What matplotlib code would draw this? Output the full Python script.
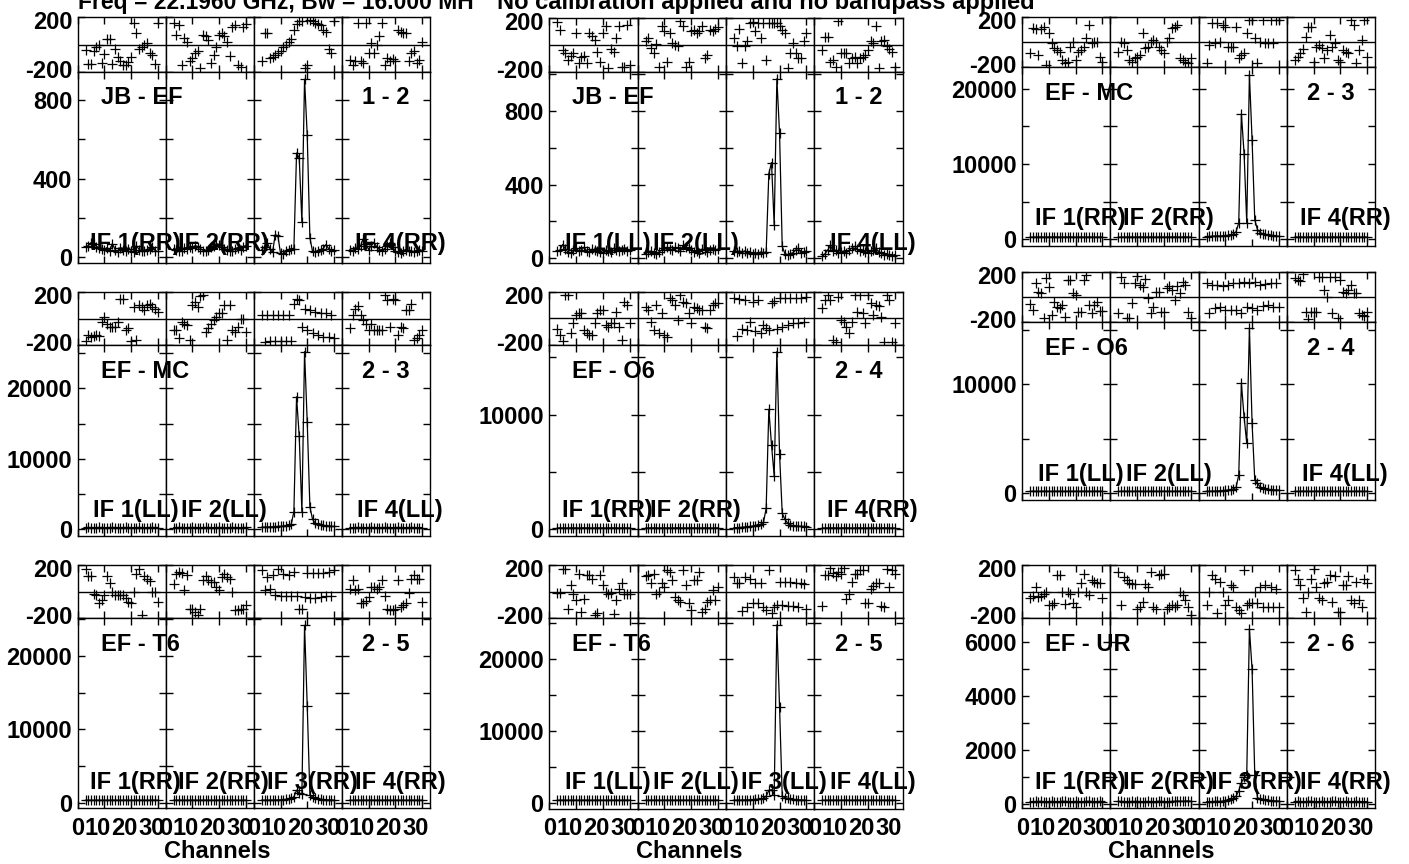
import matplotlib
matplotlib.use("Agg")
import matplotlib.pyplot as plt
from matplotlib.transforms import ScaledTranslation

plt.rcParams["font.family"] = ["Liberation Sans", "DejaVu Sans"]
plt.rcParams["font.weight"] = "bold"
plt.rcParams["axes.unicode_minus"] = False

W, H = 1409, 864

# channels plotted in every IF
channels = list(range(3, 31))

# ---------------- data (phase in degrees, amplitude) ----------------
# one list per IF (IF 1, 2, 3, 4)
ph_jb_ef_rr = [
    [-40, -145, -140, -45, -20, -5, -135, -70, 40, 40, -140, -35, -90, -125, -150, -150, -130, -95, 160, 85, -35, -15, -5, 10, -65, -80, -140, 155],
    [157, 71, 145, -150, 46, 15, -125, -100, -64, -51, -174, 71, 59, 34, -137, -76, -15, 71, 83, 59, 22, -88, 132, 145, -150, -162, 132, 150],
    [-120, 85, 88, -100, -90, -78, -65, -50, -15, 0, 20, 40, 110, 150, 170, 175, -175, -150, 178, 170, 160, 150, 140, 110, 90, -30, -60, 170],
    [-113, -150, -125, 157, -125, -137, 157, -64, 10, -64, -2, 59, 157, -150, -100, -125, -108, -125, 108, 95, 83, 83, -125, -64, -51, -137, -113, 22],
]
amp_jb_ef_rr = [
    [55, 60, 75, 70, 55, 50, 45, 40, 50, 35, 70, 40, 25, 50, 40, 30, 45, 35, 25, 60, 40, 30, 35, 40, 45, 55, 35, 30],
    [45, 40, 35, 35, 50, 45, 55, 50, 60, 55, 45, 35, 30, 40, 55, 60, 70, 65, 55, 45, 40, 35, 35, 45, 50, 40, 55, 60],
    [40, 55, 75, 45, 25, 115, 110, 20, 15, 30, 40, 45, 45, 530, 505, 180, 905, 620, 100, 30, 25, 35, 40, 45, 65, 45, 35, 40],
    [40, 35, 50, 45, 60, 95, 70, 40, 60, 75, 55, 40, 35, 45, 60, 75, 55, 30, 25, 20, 35, 40, 30, 35, 25, 30, 40, 35],
]

ph_jb_ef_ll = [
    [168, 110, -38, -62, -112, -80, -62, 88, -138, -88, -80, -132, 88, 68, 38, -50, -125, 88, 140, -175, -32, -50, 50, 140, -162, -162, 148, -150],
    [25, 50, -25, -60, 10, -162, 138, 100, -125, 88, 12, 0, -12, 175, 138, -162, -125, 100, 112, 88, 100, 138, -100, -75, 112, 100, 120, 130],
    [50, -8, 118, -138, -12, 32, 162, 168, 100, 162, 50, 162, -112, 162, 162, 162, 162, 140, 112, 88, -175, -62, 12, -62, -100, -100, 25, 88],
    [-38, 62, 62, -125, -112, -162, 175, -62, -62, -62, -138, -100, -88, -138, -100, -88, -75, -38, 25, 12, 140, -175, 25, 38, -12, -32, -50, -162],
]
amp_jb_ef_ll = [
    [40, 45, 75, 50, 35, 30, 45, 55, 40, 45, 60, 40, 35, 50, 45, 40, 35, 30, 45, 40, 35, 55, 45, 40, 45, 50, 40, 45],
    [25, 35, 40, 30, 25, 35, 45, 55, 60, 50, 45, 60, 55, 40, 70, 60, 55, 45, 35, 40, 30, 50, 45, 35, 45, 50, 45, 50],
    [40, 35, 40, 30, 40, 30, 35, 25, 30, 25, 35, 30, 35, 460, 520, 180, 975, 680, 65, 25, 20, 25, 30, 45, 55, 30, 35, 40],
    [10, 25, 45, 70, 40, 45, 30, 35, 40, 30, 45, 55, 65, 50, 40, 45, 35, 30, 40, 45, 55, 35, 30, 20, 25, 20, 15, 20],
]

ph_ef_mc_rr = [
    [-90, 108, 100, -103, 100, 118, -178, 68, -10, -50, -63, -76, -142, -163, -155, -37, 3, -142, -76, -63, -37, 29, 134, -10, 3, 3, -116, -155],
    [-76, 3, -10, -63, -142, -155, -129, -116, -103, 68, -50, -37, 3, 16, 3, -37, -63, -90, 3, 29, 108, 120, 134, -129, -142, -155, -168, -129],
    [-168, -24, 152, -10, 147, 3, 134, 121, -37, -37, -37, 121, -129, -103, -90, 68, 173, 173, 29, -168, 3, 173, -5, -5, 173, -5, 173, 173],
    [-142, -116, -90, -58, 42, 116, 121, -155, -37, -24, -50, -129, -63, 55, -37, -10, -142, -155, -63, -76, -90, 173, 134, -168, -63, 16, 173, -116],
]
amp_ef_mc_rr = [
    [300, 290, 310, 300, 320, 300, 290, 310, 300, 320, 310, 300, 290, 300, 310, 320, 300, 290, 300, 310, 300, 290, 300, 310, 300, 290, 300, 310],
    [280, 300, 290, 300, 310, 300, 290, 300, 310, 300, 290, 300, 310, 300, 290, 300, 310, 300, 290, 300, 310, 320, 300, 290, 300, 310, 300, 290],
    [350, 380, 400, 420, 450, 430, 470, 500, 520, 550, 700, 1000, 2200, 16700, 11400, 2200, 21900, 13200, 2600, 1300, 900, 750, 650, 600, 550, 500, 450, 400],
    [290, 300, 310, 300, 290, 300, 310, 300, 290, 300, 310, 300, 300, 290, 310, 300, 290, 300, 310, 300, 290, 300, 310, 300, 290, 300, 310, 300],
]

ph_ef_mc_ll = [
    [-168, -125, -138, -132, -125, -132, -25, 12, -38, -62, -62, -62, -25, 150, 150, -88, -75, -168, 88, -162, 100, 88, 62, 100, 112, 88, 75, 50],
    [-88, -88, -150, -25, -38, -50, -162, 100, 125, 88, 168, 175, -100, -75, -38, -12, 12, 38, 38, 100, -162, 100, -88, -100, -62, 0, 0, -100],
    [25, -175, 25, -172, 25, -172, 25, -170, 25, -170, 25, -168, 112, 150, 140, -62, 75, -88, 62, -110, 50, -125, 45, -138, 38, -142, 30, -150],
    [-75, 25, 75, 92, 25, -12, -38, -88, -38, -88, -88, -88, -88, 175, 138, -62, 150, 138, -125, -62, -75, 62, 62, 112, -162, -150, -125, -88],
]
amp_ef_mc_ll = [
    [250, 260, 250, 240, 250, 260, 250, 250, 240, 250, 260, 250, 250, 240, 250, 260, 250, 250, 240, 250, 260, 250, 250, 240, 250, 260, 250, 250],
    [240, 250, 260, 250, 250, 240, 250, 260, 250, 250, 240, 250, 260, 250, 250, 240, 250, 260, 250, 250, 240, 250, 260, 250, 250, 240, 250, 260],
    [300, 300, 320, 350, 350, 380, 400, 420, 450, 500, 600, 700, 2500, 18800, 13200, 2500, 25200, 15200, 3200, 1400, 900, 700, 600, 550, 500, 450, 450, 400],
    [250, 240, 250, 260, 250, 250, 240, 250, 260, 250, 250, 240, 250, 260, 250, 250, 240, 250, 260, 250, 250, 240, 250, 260, 250, 250, 240, 250],
]

ph_ef_o6_rr = [
    [-82, -125, -168, 178, 178, -112, -38, 25, 38, 38, -88, -112, -125, -125, -38, 38, 62, 62, -50, -62, -32, -38, 50, -62, -162, 125, 100, -32],
    [88, 62, -25, -88, 100, -112, 38, -125, -138, 150, 138, 100, -12, 175, 125, 112, 38, -38, 88, 75, 62, 62, -62, -75, 62, 100, 112, 115],
    [150, -132, 145, -82, 140, -88, -25, 125, -92, 138, -107, -50, -75, -88, 118, 132, -82, 150, -62, 150, -50, 150, -38, 150, -38, 150, -25, 158],
    [75, 138, 175, 138, -162, -175, 162, -12, -25, -62, -112, -25, 175, 50, 175, 38, -38, 178, 112, 25, 100, 92, 12, -175, 175, 138, -175, -38],
]
amp_ef_o6_rr = [
    [120, 130, 120, 110, 120, 130, 120, 120, 110, 120, 130, 120, 120, 110, 120, 130, 120, 120, 110, 120, 130, 120, 120, 110, 120, 130, 120, 120],
    [110, 120, 130, 120, 120, 110, 120, 130, 120, 120, 110, 120, 130, 120, 120, 110, 120, 130, 120, 120, 110, 120, 130, 120, 120, 110, 120, 130],
    [150, 150, 160, 180, 200, 220, 250, 280, 300, 350, 450, 600, 1830, 10460, 7360, 4650, 15500, 6580, 1400, 870, 550, 400, 330, 300, 280, 260, 250, 240],
    [120, 110, 120, 130, 120, 120, 110, 120, 130, 120, 120, 110, 120, 130, 120, 120, 110, 120, 130, 120, 120, 110, 120, 130, 120, 120, 110, 120],
]

ph_ef_o6_ll = [
    [-55, -103, 108, 42, 29, -168, 147, 81, -142, -37, -76, -90, -63, -155, 134, 134, 29, 16, -116, -116, 134, 173, -63, -129, -63, -37, -108, -108],
    [-129, 160, 113, -168, -168, -45, 113, 165, 95, 81, 139, -10, -129, -76, 42, 42, -116, -116, 68, 87, 55, -24, 87, 29, 121, 95, -116, -168],
    [108, -129, 95, -90, 95, -82, 87, -103, 95, -103, 108, -103, 110, -129, 121, -76, 113, -90, 121, -103, 95, -71, 100, -63, 108, -76, 113, -76],
    [147, 134, 129, 178, -116, -170, -116, -116, -116, 155, 155, 55, 3, 160, -129, 160, -168, 134, 42, 29, 55, 95, 29, 29, -129, -142, -150, -116],
]
amp_ef_o6_ll = [
    [130, 140, 130, 120, 130, 140, 130, 130, 120, 130, 140, 130, 130, 120, 130, 140, 130, 130, 120, 130, 140, 130, 130, 120, 130, 140, 130, 130],
    [120, 130, 140, 130, 130, 120, 130, 140, 130, 130, 120, 130, 140, 130, 130, 120, 130, 140, 130, 130, 120, 130, 140, 130, 130, 120, 130, 140],
    [130, 140, 150, 150, 170, 180, 200, 220, 250, 280, 350, 500, 1630, 10100, 7000, 4560, 15200, 6400, 1170, 860, 550, 400, 330, 300, 280, 260, 250, 240],
    [130, 120, 130, 140, 130, 130, 120, 130, 140, 130, 130, 120, 130, 140, 130, 130, 120, 130, 140, 130, 130, 120, 130, 140, 130, 130, 120, 130],
]

ph_ef_t6_rr = [
    [171, 114, 114, -15, -27, -89, -65, -27, 114, 60, -2, -27, -27, -27, -27, -52, -77, -84, -2, 134, 171, -176, 114, 97, 79, -2, -2, -77],
    [55, 134, 146, 139, 10, 122, -127, -127, -151, -176, -127, 84, 114, 84, 72, 72, 35, 10, 109, 134, 109, 97, -2, -139, -139, -134, -127, -102],
    [164, 10, 109, 15, 122, -27, 171, -35, 129, -35, 122, -35, 146, -35, -127, -127, -40, 139, -45, 139, -45, 139, -40, 139, -35, 146, -30, 164],
    [22, 84, 10, 22, -84, -84, -70, -40, 30, 30, 22, 30, 84, -35, -127, -139, -139, -134, 84, -114, -102, -89, -10, 97, 122, 97, 97, -77],
]
amp_ef_t6_rr = [
    [340, 350, 340, 330, 340, 350, 340, 340, 330, 340, 350, 340, 340, 330, 340, 350, 340, 340, 330, 340, 350, 340, 340, 330, 340, 350, 340, 340],
    [330, 340, 350, 340, 340, 330, 340, 350, 340, 340, 330, 340, 350, 340, 340, 330, 340, 350, 340, 340, 330, 340, 350, 340, 340, 330, 340, 350],
    [350, 350, 350, 360, 360, 370, 380, 400, 420, 450, 500, 600, 800, 1700, 1300, 1200, 24200, 13200, 1050, 800, 600, 500, 450, 420, 400, 380, 380, 350],
    [340, 330, 340, 350, 340, 340, 330, 340, 350, 340, 340, 330, 340, 350, 340, 340, 330, 340, 350, 340, 340, 330, 340, 350, 340, 340, 330, 340],
]

ph_ef_t6_ll = [
    [-10, -10, 171, 171, -134, 47, -15, -65, 134, -151, -59, 122, 122, 97, -176, -164, 122, 47, -2, -15, -10, -169, -65, 22, 60, -15, -20, -15],
    [114, 122, 60, 129, -15, -2, 60, 35, 159, 146, 84, -40, -65, -77, 159, 47, -84, -139, 89, 84, 146, -151, -127, -77, -65, 10, -65, 35],
    [109, 60, 60, -144, 109, -114, 97, -84, 60, -89, 60, -114, -139, 159, -164, -114, -102, 72, -102, 72, -109, 72, -109, 65, -114, 60, 55, -134],
    [-109, 122, 122, 178, 139, 114, 146, 129, 178, -59, -20, 72, 134, 134, 159, 159, -89, -84, 22, 40, 65, 65, -109, -114, 171, 35, 159, 129],
]
amp_ef_t6_ll = [
    [340, 350, 340, 330, 340, 350, 340, 340, 330, 340, 350, 340, 340, 330, 340, 350, 340, 340, 330, 340, 350, 340, 340, 330, 340, 350, 340, 340],
    [330, 340, 350, 340, 340, 330, 340, 350, 340, 340, 330, 340, 350, 340, 340, 330, 340, 350, 340, 340, 330, 340, 350, 340, 340, 330, 340, 350],
    [350, 350, 360, 360, 370, 380, 400, 420, 450, 480, 520, 600, 900, 1700, 1800, 1100, 24700, 13300, 900, 700, 600, 500, 450, 420, 400, 380, 360, 350],
    [340, 330, 340, 350, 340, 340, 330, 340, 350, 340, 340, 330, 340, 350, 340, 340, 330, 340, 350, 340, 340, 330, 340, 350, 340, 340, 330, 340],
]

ph_ef_ur_rr = [
    [-52, -35, 35, -40, -35, -15, -2, -102, -102, -89, 122, 122, -2, -94, -2, -15, -89, -114, -2, 60, 134, -2, -27, 84, 72, 60, 60, -45],
    [146, -102, 109, 84, 60, 55, 55, -134, -114, -77, 55, 35, 146, -114, -134, 122, 129, 134, -134, -114, -102, -114, -102, -2, -27, -65, -114, -176],
    [-102, -2, 122, 97, -164, 72, -2, -102, -65, 47, 35, -114, -139, -164, 159, -102, -89, -89, -2, -89, 35, -114, 47, -114, 35, -114, 22, -114],
    [159, 97, 47, -52, -151, -2, 97, 171, 35, -52, -65, 60, 72, 122, -77, 114, -151, -151, 47, 47, 114, -65, -89, 72, -65, -114, 97, 60],
]
amp_ef_ur_rr = [
    [100, 95, 105, 100, 110, 100, 95, 100, 105, 100, 95, 100, 110, 105, 100, 95, 100, 105, 100, 95, 100, 105, 110, 100, 95, 100, 105, 100],
    [110, 105, 100, 95, 100, 105, 100, 110, 100, 95, 100, 105, 100, 95, 100, 110, 105, 100, 95, 100, 105, 110, 120, 115, 110, 120, 125, 115],
    [90, 100, 95, 105, 110, 100, 120, 130, 150, 180, 220, 300, 500, 800, 1000, 1100, 6500, 5000, 1100, 250, 200, 180, 160, 150, 140, 130, 125, 120],
    [100, 105, 100, 95, 100, 105, 110, 100, 95, 100, 105, 100, 95, 100, 105, 110, 100, 95, 100, 105, 100, 95, 100, 105, 100, 95, 100, 100],
]

# ---------------- layout (pixels) ----------------
# box = left, right, phase top, phase/amp border, amp bottom
panels = [
    dict(bl="JB - EF", pair="1 - 2", pol="RR", ph=ph_jb_ef_rr, amp=amp_jb_ef_rr,
         box=(77.7, 430, 17.3, 71.7, 263.3), ylim=(-30, 943), step=200, lab=[0, 400, 800], ifoff=20, row=0),
    dict(bl="JB - EF", pair="1 - 2", pol="LL", ph=ph_jb_ef_ll, amp=amp_jb_ef_ll,
         box=(549.3, 902.7, 18.0, 71.7, 263.3), ylim=(-27, 1013), step=200, lab=[0, 400, 800], ifoff=20, row=0),
    dict(bl="EF - MC", pair="2 - 3", pol="RR", ph=ph_ef_mc_rr, amp=amp_ef_mc_rr,
         box=(1022.3, 1375, 16.7, 67.3, 245.7), ylim=(-850, 22870), step=5000, lab=[0, 10000, 20000], ifoff=27, row=0),
    dict(bl="EF - MC", pair="2 - 3", pol="LL", ph=ph_ef_mc_ll, amp=amp_ef_mc_ll,
         box=(77.7, 430, 292.0, 345.0, 536.0), ylim=(-950, 26140), step=5000, lab=[0, 10000, 20000], ifoff=26, row=1),
    dict(bl="EF - O6", pair="2 - 4", pol="RR", ph=ph_ef_o6_rr, amp=amp_ef_o6_rr,
         box=(549.3, 902.7, 291.7, 345.0, 536.0), ylim=(-580, 16070), step=5000, lab=[0, 10000], ifoff=26, row=1),
    dict(bl="EF - O6", pair="2 - 4", pol="LL", ph=ph_ef_o6_ll, amp=amp_ef_o6_ll,
         box=(1022.3, 1375, 271.7, 322.3, 500.0), ylim=(-670, 15730), step=5000, lab=[0, 10000], ifoff=26, row=1),
    dict(bl="EF - T6", pair="2 - 5", pol="RR", ph=ph_ef_t6_rr, amp=amp_ef_t6_rr,
         box=(77.7, 430, 564.7, 618.3, 808.3), ylim=(-760, 25150), step=5000, lab=[0, 10000, 20000], ifoff=26, row=2),
    dict(bl="EF - T6", pair="2 - 5", pol="LL", ph=ph_ef_t6_ll, amp=amp_ef_t6_ll,
         box=(549.3, 902.7, 564.7, 618.3, 809.0), ylim=(-880, 25610), step=5000, lab=[0, 10000, 20000], ifoff=26, row=2),
    dict(bl="EF - UR", pair="2 - 6", pol="RR", ph=ph_ef_ur_rr, amp=amp_ef_ur_rr,
         box=(1022.3, 1375, 564.7, 618.3, 808.3), ylim=(-148, 6889), step=1000, lab=[0, 2000, 4000, 6000], ifoff=26, row=2),
]

FS = 17

fig = plt.figure(figsize=(W / 100, H / 100), dpi=100)


def rect(x0, y0, x1, y1):
    return [x0 / W, 1 - y1 / H, (x1 - x0) / W, (y1 - y0) / H]


def fx(x):
    return x / W


def fy(y):
    return 1 - y / H


def shift(lbl, dx, dy):
    # move a tick label by dx, dy pixels
    lbl.set_transform(lbl.get_transform() + ScaledTranslation(dx / 100, dy / 100, fig.dpi_scale_trans))


def style(ax):
    for s in ax.spines.values():
        s.set_linewidth(1.0)
    ax.tick_params(direction="in", length=5, width=1, top=True, right=True,
                   labelsize=FS)
    ax.tick_params(axis="y", pad=4)
    ax.tick_params(axis="x", pad=6)
    ax.set_xlim(0, 33)
    ax.set_xticks([0, 10, 20, 30])


for p in panels:
    left, right, top, mid, bottom = p["box"]
    wif = (right - left) / 4
    lo, hi = p["ylim"]
    ticks = list(range(0, int(hi) + 1, p["step"]))
    for k in range(4):
        x0 = left + k * wif
        x1 = x0 + wif
        axp = fig.add_axes(rect(x0, top, x1, mid))
        axa = fig.add_axes(rect(x0, mid, x1, bottom))

        axp.plot(channels, p["ph"][k], "+", color="black", ms=7, mew=0.9)
        axp.axhline(0, color="black", lw=1)
        style(axp)
        axp.set_ylim(-200, 200)
        axp.set_yticks([-200, 200])
        axp.set_xticklabels([])

        axa.plot(channels, p["amp"][k], "-+", color="black", lw=0.9, ms=7, mew=0.9)
        style(axa)
        axa.set_ylim(lo, hi)
        axa.set_yticks(ticks)
        axa.set_yticklabels([str(t) if t in p["lab"] else "" for t in ticks])

        if k > 0:
            axp.set_yticklabels([])
            axa.set_yticklabels([])
        else:
            lbls = axp.get_yticklabels()
            shift(lbls[0], 0, 3)
            shift(lbls[1], 0, -3)
        if p["row"] < 2:
            axa.set_xticklabels([])
        else:
            axa.set_xticklabels(["0", "10", "20", "30"])
            # two-digit numbers sit a little left of their ticks
            for lbl in axa.get_xticklabels()[1:]:
                shift(lbl, -6.5, 0)

        # IF labels (IF 3 label left out where the line peak fills the box)
        if k != 2 or p["row"] == 2:
            fig.text(fx(x0 + wif / 2 + 14), fy(bottom - p["ifoff"]),
                     "IF %d(%s)" % (k + 1, p["pol"]), fontsize=FS,
                     fontweight="bold", ha="center", va="center")

    fig.text(fx(left + 23), fy(mid + 26), p["bl"], fontsize=FS,
             fontweight="bold", ha="left", va="center")
    fig.text(fx(left + 3.5 * wif), fy(mid + 26), p["pair"], fontsize=FS,
             fontweight="bold", ha="center", va="center")
    if p["row"] == 2:
        fig.text(fx((left + right) / 2 - 37), fy(851), "Channels", fontsize=FS,
                 fontweight="bold", ha="center", va="center")

fig.text(fx(78), fy(9), "Freq = 22.1960 GHz, Bw = 16.000 MH", fontsize=16.5,
         fontweight="bold", ha="left", va="baseline")
fig.text(fx(497), fy(9), "No calibration applied and no bandpass applied",
         fontsize=FS, fontweight="bold", ha="left", va="baseline")

fig.savefig("out.png", dpi=100, facecolor="white")
